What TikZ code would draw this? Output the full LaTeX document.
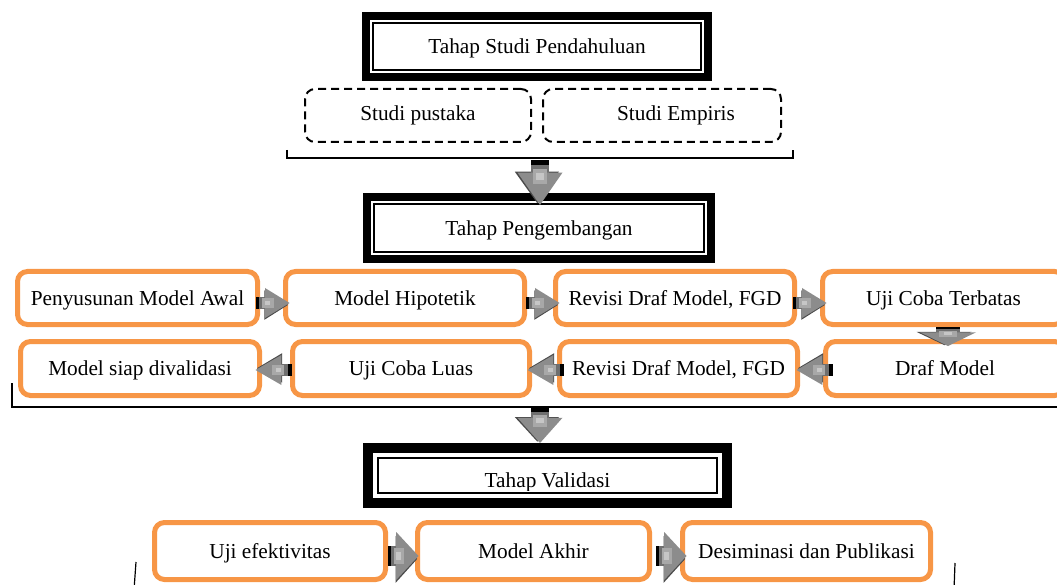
\documentclass[tikz,border=0pt]{standalone}
\usepackage{fontspec}
\setmainfont{Liberation Serif}
\usetikzlibrary{calc}
\definecolor{boxorange}{HTML}{F79646}
\definecolor{arrowdark}{HTML}{4A4A4A}
\definecolor{arrowbody}{HTML}{6F6F6F}
\definecolor{arrowhead}{HTML}{8C8C8C}
\definecolor{arrowlight}{HTML}{A8A8A8}
\definecolor{arrowlighter}{HTML}{C6C6C6}
\tikzset{
  % shaded block arrow, tip at the origin, body along -x, unit length and height
  blockarrow/.pic={
    \fill[arrowdark] (-0.74,0.42) -- (-0.04,-0.06) -- (-0.74,-0.56) -- cycle;
    \fill[arrowbody] (-1,-0.21) rectangle (-0.6,0.21);
    \fill[arrowhead] (-0.72,0.5) -- (0,0) -- (-0.72,-0.5) -- cycle;
    \fill[arrowlight] (-0.8,-0.16) rectangle (-0.46,0.16);
    \fill[arrowlighter] (-0.72,-0.08) rectangle (-0.56,0.08);
    \fill[black] (-1,-0.21) rectangle (-0.89,0.21);
  }
}
\begin{document}
\begin{tikzpicture}[x=1pt,y=1pt,
  every node/.style={inner sep=0pt, outer sep=0pt, font=\fontsize{21.3}{25}\selectfont},
  stepbox/.style={draw=boxorange, line width=5pt, rounded corners=10pt, fill=white,
    text height=14.5pt, text depth=0pt},
  studybox/.style={draw=black, line width=2pt, dash pattern=on 8pt off 5pt,
    rounded corners=10pt, text height=14.5pt, text depth=4.5pt},
  stagebox/.style 2 args={draw=black, line width=#1, fill=white,
    text height=14.5pt, text depth=0pt,
    path picture={\draw[line width=2pt]
      ([shift={(#2,#2)}]path picture bounding box.south west) rectangle
      ([shift={(-#2,-#2)}]path picture bounding box.north east);}},
  bracket/.style={draw=black, line width=1.2pt},
]
\clip (0,0) rectangle (1057,-585);

% preliminary study stage
\node[stagebox={8pt}{7pt}, minimum width=342pt, minimum height=61pt] (sp) at (537,-46.5) {Tahap Studi Pendahuluan};
\node[studybox, minimum width=226pt, minimum height=53pt] (pus) at (418,-115.5) {Studi pustaka};
\node[studybox, minimum width=238pt, minimum height=53pt] (emp) at (662,-115.5) {\hspace*{28pt}Studi Empiris};
\draw[bracket] (287,-150) -- (287,-158) -- (793,-158) -- (793,-150);

% development stage
\node[stagebox={8pt}{7pt}, minimum width=344pt, minimum height=62pt] (pg) at (539,-228) {Tahap Pengembangan};

\node[stepbox, minimum width=240pt, minimum height=53pt] (awal) at (137.5,-298) {Penyusunan Model Awal};
\node[stepbox, minimum width=239pt, minimum height=53pt] (hip)  at (405,-298)   {Model Hipotetik};
\node[stepbox, minimum width=239pt, minimum height=53pt] (rev1) at (675,-298)   {Revisi Draf Model, FGD};
\node[stepbox, minimum width=242pt, minimum height=53pt] (uct)  at (943.5,-298) {Uji Coba Terbatas};

\node[stepbox, minimum width=239pt, minimum height=54pt] (siap) at (140,-368.5)   {Model siap divalidasi};
\node[stepbox, minimum width=237pt, minimum height=54pt] (luas) at (411,-368.5)   {Uji Coba Luas};
\node[stepbox, minimum width=238pt, minimum height=54pt] (rev2) at (678.5,-368.5) {Revisi Draf Model, FGD};
\node[stepbox, minimum width=239pt, minimum height=54pt] (draf) at (945,-368.5)   {Draf Model};
\draw[bracket] (12,-383) -- (12,-407) -- (1060,-407);

% validation stage
\node[stagebox={10pt}{10pt}, minimum width=359pt, minimum height=55pt] (va) at (547.5,-475.5) {};
\begin{scope}
  \clip ([shift={(10pt,13pt)}]va.south west) rectangle ([shift={(-10pt,-10pt)}]va.north east);
  \node[anchor=base] (vat) at ([yshift=-11.5pt]va.center) {Tahap Validasi};
\end{scope}

\node[stepbox, minimum width=231pt, minimum height=57pt] (efek)  at (270,-551)   {Uji efektivitas};
\node[stepbox, minimum width=232pt, minimum height=57pt] (akhir) at (533.5,-551) {Model Akhir};
\node[stepbox, minimum width=248pt, minimum height=57pt] (pub)   at (806.5,-551) {Desiminasi dan Publikasi};
\draw[bracket] (134,-590) -- (136,-562);
\draw[bracket] (954,-590) -- (955,-563);

% block arrows between the steps
\path ([shift={(1pt,-8pt)}]pg.north) pic[rotate=-90, xscale=45, yscale=45] {blockarrow};
\path ([shift={(4pt,-5pt)}]hip.west)  pic[xscale=34, yscale=30] {blockarrow};
\path ([shift={(4pt,-5pt)}]rev1.west) pic[xscale=34, yscale=30] {blockarrow};
\path ([shift={(4pt,-5pt)}]uct.west)  pic[xscale=34, yscale=30] {blockarrow};
\path ([shift={(3pt,-4.5pt)}]draf.north) pic[rotate=-90, xscale=19, yscale=56] {blockarrow};
\path ([shift={(-1pt,-1.5pt)}]rev2.east) pic[rotate=180, xscale=36, yscale=30] {blockarrow};
\path ([shift={(-2pt,-1.5pt)}]luas.east) pic[rotate=180, xscale=36, yscale=30] {blockarrow};
\path ([shift={(-4pt,-1.5pt)}]siap.east) pic[rotate=180, xscale=36, yscale=30] {blockarrow};
\path ([shift={(-7.5pt,5pt)}]va.north) pic[rotate=-90, xscale=35, yscale=45] {blockarrow};
\path ([shift={(1pt,-5pt)}]akhir.west) pic[xscale=31, yscale=48] {blockarrow};
\path ([shift={(4pt,-5pt)}]pub.west)   pic[xscale=31, yscale=48] {blockarrow};
\end{tikzpicture}
\end{document}
